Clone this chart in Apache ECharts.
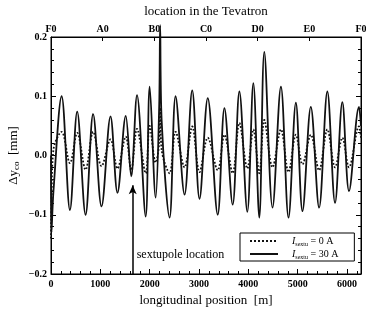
<!DOCTYPE html>
<html>
<head>
<meta charset="utf-8">
<script src="https://cdn.jsdelivr.net/npm/echarts@6/dist/echarts.min.js"></script>
<style>
  html, body { margin: 0; padding: 0; background: #fff; }
  #main { width: 366px; height: 312px; }
</style>
</head>
<body>
<div id="main"></div>
<script>
  const positions = [0, 10, 50, 216, 384, 531, 701, 854, 1024, 1206, 1347, 1515, 1626, 1743, 1919, 2000, 2121, 2192, 2212, 2242,
    2404, 2525, 2707, 2862, 3010, 3177, 3379, 3515, 3682, 3818, 3979, 4101, 4222, 4323, 4490, 4660, 4814, 4963, 5097,
    5266, 5434, 5601, 5757, 5905, 6040, 6242, 6283]
  // I_sextu = 30 A (solid)
  const orbit30A = [0.0, -0.13, -0.06, 0.100, -0.092, 0.074, -0.100, 0.070, -0.086, 0.066, -0.063, 0.067, -0.035, 0.102, -0.103, 0.116, -0.071, 0.08, 0.22, 0.06,
    -0.105, 0.100, -0.066, 0.110, -0.073, 0.097, -0.100, 0.080, -0.083, 0.108, -0.095, 0.122, -0.105, 0.175, -0.088, 0.116, -0.105, 0.089, -0.094,
    0.082, -0.088, 0.108, -0.080, 0.090, -0.060, 0.082, 0.05]
  // I_sextu = 0 A (dotted)
  const orbit0A = [-0.14, -0.08, 0.010, 0.040, -0.013, 0.038, -0.024, 0.040, -0.018, 0.027, -0.022, 0.032, -0.025, 0.045, -0.030, 0.050, -0.012, 0.02, 0.080, 0.01,
    -0.030, 0.040, -0.020, 0.049, -0.028, 0.030, -0.025, 0.035, -0.030, 0.055, -0.022, 0.044, -0.030, 0.060, -0.020, 0.044, -0.028, 0.035, -0.015,
    0.035, -0.025, 0.044, -0.020, 0.030, -0.020, 0.049, 0.03]
  const sectorLabels = ['F0', 'A0', 'B0', 'C0', 'D0', 'E0', 'F0']
  const ringLength = 6283
  const sextupolePos = 1656

  const serif = 'Liberation Serif'
  const sectorStep = ringLength / 6

  let myChart = echarts.init(document.getElementById('main'))
  let option = {
    animation: false,
    grid: {
      left: 51, right: 5, top: 37, bottom: 38,
      outerBoundsMode: 'none',
      show: true, borderColor: '#000', borderWidth: 1
    },
    legend: {
      orient: 'vertical',
      left: 240, top: 233,
      borderColor: '#000', borderWidth: 1,
      padding: [2, 16, 1, 9],
      itemGap: 1,
      itemWidth: 28,
      itemHeight: 9,
      itemStyle: { opacity: 0 },
      data: ['0A', '30A'],
      formatter: name => name === '0A'
        ? '{sp|}{i|I}{s|sextu}{n| = 0 A}'
        : '{sp|}{i|I}{s|sextu}{n| = 30 A}',
      textStyle: {
        fontFamily: serif,
        rich: {
          sp: { width: 9 },
          i: { fontFamily: serif, fontStyle: 'italic', fontSize: 10, color: '#000' },
          s: { fontFamily: serif, fontSize: 6, color: '#000', verticalAlign: 'bottom', padding: [4, 0, 0, 0] },
          n: { fontFamily: serif, fontSize: 10, color: '#000' }
        }
      }
    },
    xAxis: [
      {
        type: 'value',
        position: 'bottom',
        min: 0, max: ringLength, interval: 1000,
        name: 'longitudinal position  [m]',
        nameLocation: 'middle',
        nameGap: 16,
        nameTextStyle: { fontFamily: serif, fontSize: 13, color: '#000' },
        axisLine: { onZero: false, lineStyle: { color: '#000' } },
        axisTick: { inside: true, length: 5, lineStyle: { color: '#000' } },
        minorTick: { show: true, splitNumber: 5, length: 3, lineStyle: { color: '#000' } },
        axisLabel: {
          margin: 5,
          fontFamily: serif, fontSize: 10, fontWeight: 'bold', color: '#000',
          formatter: v => (v % 1000 === 0 ? String(v) : '')
        },
        splitLine: { show: false }
      },
      {
        type: 'value',
        position: 'top',
        min: 0, max: ringLength, interval: sectorStep,
        name: 'location in the Tevatron',
        nameLocation: 'middle',
        nameGap: 19,
        nameTextStyle: { fontFamily: serif, fontSize: 13, color: '#000' },
        axisLine: { onZero: false, lineStyle: { color: '#000' } },
        axisTick: { inside: true, length: 4, lineStyle: { color: '#000' } },
        axisLabel: {
          margin: 3,
          fontFamily: serif, fontSize: 10, fontWeight: 'bold', color: '#000',
          formatter: v => sectorLabels[Math.round(v / sectorStep)] || ''
        },
        splitLine: { show: false }
      }
    ],
    yAxis: [
      {
        type: 'value',
        min: -0.2, max: 0.2, interval: 0.1,
        name: '{a|Δy}{s|co}{a|  [mm]}',
        nameLocation: 'middle',
        nameGap: 30,
        nameMoveOverlap: false,
        nameRotate: 90,
        nameTextStyle: {
          rich: {
            a: { fontFamily: serif, fontSize: 13, color: '#000' },
            s: { fontFamily: serif, fontSize: 9, color: '#000', verticalAlign: 'bottom', padding: [6, 0, 0, 0] }
          }
        },
        axisLine: { onZero: false, lineStyle: { color: '#000' } },
        axisTick: { inside: true, length: 5, lineStyle: { color: '#000' } },
        minorTick: { show: true, splitNumber: 5, length: 3, lineStyle: { color: '#000' } },
        axisLabel: {
          margin: 4,
          fontFamily: serif, fontSize: 10, fontWeight: 'bold', color: '#000',
          formatter: v => v.toFixed(1).replace('-', '−')
        },
        splitLine: { show: false }
      },
      {
        type: 'value',
        position: 'right',
        min: -0.2, max: 0.2, interval: 0.1,
        axisLine: { onZero: false, lineStyle: { color: '#000' } },
        axisTick: { inside: true, length: 5, lineStyle: { color: '#000' } },
        minorTick: { show: true, splitNumber: 5, length: 3, lineStyle: { color: '#000' } },
        axisLabel: { show: false },
        splitLine: { show: false }
      }
    ],
    series: [
      {
        name: '0A',
        type: 'line',
        symbol: 'none',
        smooth: 0.35,
        color: '#111',
        lineStyle: { color: '#111', width: 1.8, type: 'dotted' },
        data: positions.map((p, i) => [p, orbit0A[i]])
      },
      {
        name: '30A',
        type: 'line',
        symbol: 'none',
        smooth: 0.35,
        clip: false,
        color: '#111',
        lineStyle: { color: '#111', width: 1.8 },
        data: positions.map((p, i) => [p, orbit30A[i]]),
        markLine: {
          silent: true,
          symbol: ['none', 'arrow'],
          symbolSize: [6, 9],
          lineStyle: { color: '#000', type: 'solid', width: 1.5 },
          label: { show: false },
          data: [[{ coord: [sextupolePos, -0.2] }, { coord: [sextupolePos, -0.05] }]]
        },
        markPoint: {
          silent: true,
          symbol: 'circle',
          symbolSize: 0,
          label: {
            show: true,
            position: 'right',
            distance: 0,
            formatter: 'sextupole location',
            fontFamily: serif, fontSize: 12, color: '#000'
          },
          data: [{ coord: [sextupolePos + 80, -0.168] }]
        }
      }
    ]
  }
  myChart.setOption(option)
</script>
</body>
</html>
